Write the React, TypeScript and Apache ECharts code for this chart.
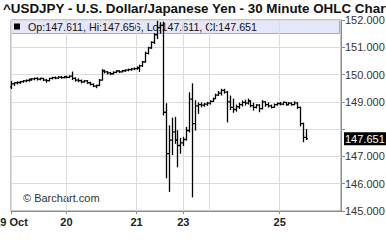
import React, { useEffect, useRef } from "react";
import * as echarts from "echarts";

const TITLE = "^USDJPY - U.S. Dollar/Japanese Yen - 30 Minute OHLC Chart";
const LEGEND_TEXT = "Op:147.611, Hi:147.656, Lo:147.611, Cl:147.651";
const WATERMARK = "\u00A9 Barchart.com";

// x-axis slots (one per hour of trading)
const SLOT_COUNT = 114;
const dayIndex = [0, 19, 43, 59, 68, 92];
const dayLabels = ["19 Oct", "20", "21", "23", "", "25"];

const yTicks = [145, 146, 147, 148, 149, 150, 151, 152];

const opens = [
  149.55, 149.66, 149.7, 149.71, 149.74, 149.77, 149.79, 149.82, 149.84, 149.86,
  149.83, 149.86, 149.8, 149.78, 149.86, 149.89, 149.87, 149.91, 149.89, 149.92,
  149.9, 149.94, 149.86, 149.8, 149.78, 149.73, 149.77, 149.7, 149.64, 149.58,
  149.6, 149.8, 150.14, 150.1, 150.06, 150.03, 150.08, 150.13, 150.1, 150.14,
  150.16, 150.18, 150.21, 150.22, 150.25, 150.32, 150.46, 150.78, 150.98, 151.18,
  151.46, 151.72, 151.8, 148.62, 147.1, 147.6, 147.9, 147.6, 147.4, 147.5,
  147.62, 147.95, 149.1, 148.2, 148.85, 148.9, 148.88, 148.92, 148.95, 149.02,
  149.12, 149.25, 149.32, 149.42, 149.36, 149.0, 148.8, 148.72, 148.82, 148.9,
  148.98, 148.95, 149.04, 148.86, 148.8, 148.88, 148.75, 149.0, 148.9, 148.85,
  148.8, 148.9, 148.94, 148.92, 148.98, 148.9, 148.95, 148.9, 148.96, 148.8,
  148.2, 147.7,
];
const highs = [
  149.77, 149.72, 149.75, 149.77, 149.8, 149.82, 149.85, 149.87, 149.89, 149.9,
  149.89, 149.88, 149.84, 149.88, 149.92, 149.93, 149.94, 149.95, 149.95, 149.96,
  149.97, 150.11, 149.9, 149.86, 149.82, 149.8, 149.8, 149.74, 149.68, 149.63,
  149.84, 150.2, 150.18, 150.13, 150.1, 150.12, 150.16, 150.16, 150.17, 150.19,
  150.22, 150.24, 150.26, 150.3, 150.36, 150.5, 150.84, 151.02, 151.22, 151.52,
  151.97, 151.92, 151.94, 148.95, 148.14, 148.42, 148.45, 147.96, 147.68, 147.72,
  148.08, 149.35, 149.68, 149.06, 148.98, 148.98, 148.96, 149.0, 149.06, 149.16,
  149.3, 149.4, 149.48, 149.48, 149.4, 149.23, 149.12, 148.9, 148.97, 149.05,
  149.08, 149.12, 149.06, 148.97, 148.92, 148.92, 149.06, 149.02, 148.98, 148.9,
  148.94, 148.98, 149.0, 149.02, 149.0, 148.99, 148.98, 149.02, 148.98, 148.82,
  148.24, 148.0,
];
const lows = [
  149.47, 149.58, 149.64, 149.66, 149.7, 149.72, 149.74, 149.77, 149.79, 149.78,
  149.79, 149.76, 149.7, 149.75, 149.82, 149.83, 149.84, 149.85, 149.86, 149.86,
  149.87, 149.8, 149.74, 149.72, 149.68, 149.7, 149.66, 149.6, 149.54, 149.5,
  149.58, 149.78, 150.04, 150.0, 149.98, 150.0, 150.05, 150.06, 150.08, 150.1,
  150.12, 150.14, 150.16, 150.18, 150.1, 150.28, 150.44, 150.74, 150.94, 151.12,
  151.3, 151.5, 148.5, 146.2, 145.7, 147.05, 147.46, 146.6, 147.1, 147.38,
  147.58, 147.88, 145.5, 147.95, 148.56, 148.8, 148.82, 148.85, 148.9, 148.99,
  149.1, 149.22, 149.23, 149.3, 148.25, 148.7, 148.6, 148.64, 148.74, 148.83,
  148.86, 148.9, 148.8, 148.68, 148.76, 148.62, 148.72, 148.82, 148.79, 148.76,
  148.78, 148.86, 148.87, 148.88, 148.86, 148.87, 148.86, 148.88, 148.74, 148.1,
  147.52, 147.6,
];
const closes = [
  149.66, 149.7, 149.71, 149.74, 149.77, 149.79, 149.82, 149.84, 149.86, 149.83,
  149.86, 149.8, 149.78, 149.86, 149.89, 149.87, 149.91, 149.89, 149.92, 149.9,
  149.94, 149.86, 149.8, 149.78, 149.73, 149.77, 149.7, 149.64, 149.58, 149.6,
  149.8, 150.14, 150.1, 150.06, 150.03, 150.08, 150.13, 150.1, 150.14, 150.16,
  150.18, 150.21, 150.22, 150.25, 150.32, 150.46, 150.78, 150.98, 151.18, 151.46,
  151.72, 151.8, 148.62, 147.1, 147.6, 147.9, 147.6, 147.4, 147.5, 147.62,
  147.95, 149.1, 148.2, 148.85, 148.9, 148.88, 148.92, 148.95, 149.02, 149.12,
  149.25, 149.32, 149.42, 149.36, 149.0, 148.8, 148.72, 148.82, 148.9, 148.98,
  148.95, 149.04, 148.86, 148.8, 148.88, 148.75, 149.0, 148.9, 148.85, 148.8,
  148.9, 148.94, 148.92, 148.98, 148.9, 148.95, 148.9, 148.96, 148.8, 148.2,
  147.7, 147.651,
];

const FONT = '"Liberation Sans", Arial, sans-serif';

export default function App() {
  const ref = useRef<HTMLDivElement>(null);

  useEffect(() => {
    if (!ref.current) return;
    const chart = echarts.init(ref.current, undefined, { renderer: "svg" });
    const slots = Array.from({ length: SLOT_COUNT }, (_, i) => String(i));
    const labelAt: Record<number, string> = {};
    dayIndex.forEach((d, k) => (labelAt[d] = dayLabels[k]));
    const data = opens.map((o, i) => [i, o, highs[i], lows[i], closes[i]]);
    const lastClose = closes[closes.length - 1];

    chart.setOption({
      animation: false,
      grid: {
        left: 11,
        right: 45,
        top: 20,
        bottom: 41,
        show: true,
        borderColor: "#8c8c8c",
        borderWidth: 1,
        backgroundColor: "transparent",
        containLabel: false,
        outerBoundsMode: "none",
      },
      xAxis: {
        type: "category",
        data: slots,
        boundaryGap: false,
        axisLine: { show: true, lineStyle: { color: "#8c8c8c", width: 1 } },
        axisTick: {
          show: true,
          length: 3,
          interval: (i: number) => labelAt[i] !== undefined && labelAt[i] !== "",
          lineStyle: { color: "#8c8c8c" },
        },
        axisLabel: {
          show: true,
          interval: (i: number) => labelAt[i] !== undefined && labelAt[i] !== "",
          formatter: (_v: string, i: number) => labelAt[i] ?? "",
          fontFamily: FONT,
          fontWeight: "bold",
          fontSize: 11,
          color: "#222",
          margin: 5,
          alignMinLabel: "center",
          hideOverlap: false,
        },
        splitLine: {
          show: true,
          interval: (i: number) => labelAt[i] !== undefined,
          lineStyle: { color: "#dcdcdc", width: 1 },
        },
      },
      yAxis: {
        type: "value",
        position: "right",
        min: yTicks[0],
        max: yTicks[yTicks.length - 1],
        interval: 1,
        axisLine: { show: true, lineStyle: { color: "#8c8c8c", width: 1 } },
        axisTick: { show: true, length: 4, lineStyle: { color: "#8c8c8c" } },
        axisLabel: {
          formatter: (v: number) => (Math.abs(v - lastClose) < 0.5 ? "" : v.toFixed(3)),
          fontFamily: FONT,
          fontSize: 11,
          color: "#333",
          margin: 4,
        },
        splitLine: { show: true, lineStyle: { color: "#dcdcdc", width: 1 } },
      },
      graphic: [
        {
          type: "text",
          x: 3,
          y: 8,
          style: {
            text: TITLE,
            font: `bold 13.4px ${FONT}`,
            fill: "#111",
            verticalAlign: "middle",
          },
        },
        {
          type: "rect",
          shape: { x: 11.5, y: 20.5, width: 328, height: 13 },
          style: { fill: "#e6e6fa", stroke: "#a9a9c8", lineWidth: 1 },
        },
        {
          type: "rect",
          shape: { x: 14, y: 23.5, width: 6, height: 6 },
          style: { fill: "#000" },
        },
        {
          type: "text",
          x: 28,
          y: 27,
          style: {
            text: LEGEND_TEXT,
            font: `10.7px ${FONT}`,
            fill: "#111",
            verticalAlign: "middle",
          },
        },
        {
          type: "text",
          x: 23,
          y: 198,
          style: {
            text: WATERMARK,
            font: `11px ${FONT}`,
            fill: "#333",
            verticalAlign: "middle",
          },
        },
      ],
      series: [
        {
          type: "custom",
          data,
          encode: { x: 0, y: [1, 2, 3, 4] },
          z: 5,
          renderItem: (_params: any, api: any) => {
            const i = api.value(0);
            const o = api.coord([i, api.value(1)]);
            const h = api.coord([i, api.value(2)]);
            const l = api.coord([i, api.value(3)]);
            const c = api.coord([i, api.value(4)]);
            const x = Math.round(h[0]) + 0.5;
            const style = { stroke: "#000", lineWidth: 1.3 };
            let y1 = h[1];
            let y2 = l[1];
            if (y2 - y1 < 1.5) {
              y2 = y1 + 1.5;
            }
            return {
              type: "group",
              children: [
                { type: "line", shape: { x1: x, y1, x2: x, y2 }, style },
                { type: "line", shape: { x1: x - 1.5, y1: o[1], x2: x, y2: o[1] }, style },
                { type: "line", shape: { x1: x, y1: c[1], x2: x + 1.5, y2: c[1] }, style },
              ],
            };
          },
          markLine: {
            silent: true,
            symbol: "none",
            lineStyle: { width: 0, color: "rgba(0,0,0,0)" },
            label: {
              show: true,
              position: "end",
              distance: 3,
              formatter: () => lastClose.toFixed(3),
              backgroundColor: "#000",
              color: "#fff",
              fontFamily: FONT,
              fontSize: 11,
              padding: [1, 2, 1, 1],
            },
            data: [{ yAxis: lastClose }],
          },
        },
      ],
    });

    return () => chart.dispose();
  }, []);

  return (
    <div
      ref={ref}
      style={{ position: "fixed", left: 0, top: 0, width: 386, height: 252, background: "#fff" }}
    />
  );
}
